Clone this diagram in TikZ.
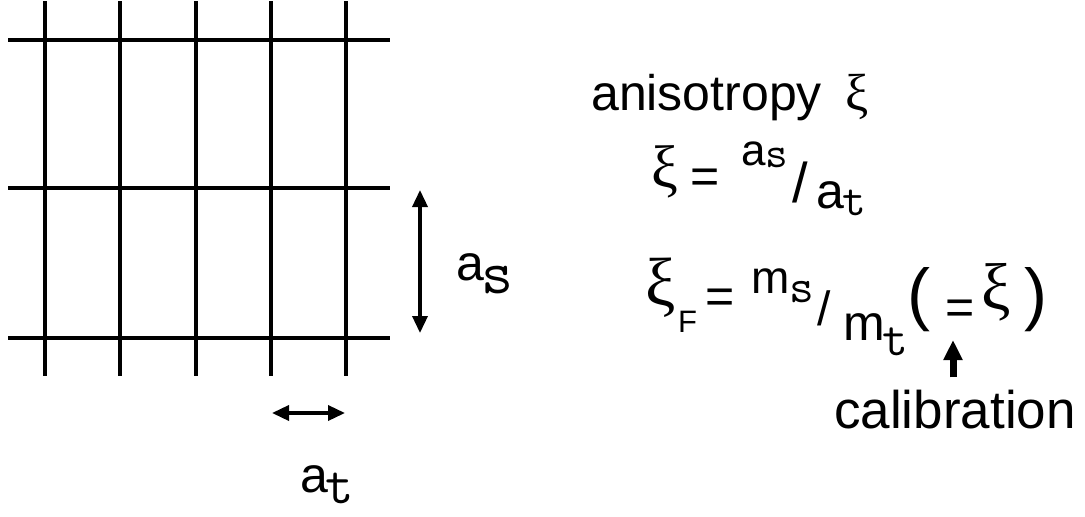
\documentclass[tikz,border=0pt]{standalone}
\usepackage{fontspec}
\setmainfont{Liberation Sans}
\newfontfamily\symfont{Liberation Serif}
\usetikzlibrary{arrows.meta}

\newcommand{\fs}[1]{\fontsize{#1}{#1}\selectfont}
\newcommand{\subs}[3]{\raisebox{-#3}{\fs{#1}\ttfamily #2}}

\begin{document}
\begin{tikzpicture}[
    x=1pt, y=-1pt,
    gridline/.style={line width=4pt},
    dimarrow/.style={{Triangle[length=17pt, width=15pt]}-{Triangle[length=17pt, width=15pt]}, line width=3.5pt},
    calarrow/.style={-{Triangle[length=20pt, width=18pt]}, line width=7pt},
    txt/.style={inner sep=0pt, anchor=base west, font=\fs{50}},
    sym/.style={txt, font=\fs{60}\symfont},
]
    \useasboundingbox (0,0) rectangle (1085,517);

    % Lattice
    \foreach \y in {40,188,338}
        \draw[gridline] (8,\y) -- (390,\y);
    \foreach \x in {45,120,196,271,346}
        \draw[gridline] (\x,1) -- (\x,376);

    % Spatial spacing
    \coordinate (astop) at (420,190);
    \coordinate (asbot) at (420,333);
    \draw[dimarrow] (astop) -- (asbot);
    \node[txt] (aslabel) at (456,280) {a\hspace{-3pt}\subs{62}{s}{13pt}};

    % Temporal spacing
    \coordinate (atleft) at (272,413);
    \coordinate (atright) at (345,413);
    \draw[dimarrow] (atleft) -- (atright);
    \node[txt] (atlabel) at (300,492) {a\hspace{-3pt}\subs{55}{t}{11pt}};

    % Anisotropy
    \node[txt] (aniso) at (591,110) {anisotropy\hspace{24pt}{\fs{52}\symfont ξ}};

    % Bare anisotropy
    \node[sym] (xibare) at (651,187) {ξ};
    \node[txt] (eqbare) at (690,193) {=};
    \node[txt, font=\fs{44}] (asnum) at (741,165) {a\subs{44}{s}{2pt}};
    \node[txt, font=\fs{56}] (slashbare) at (792,202) {/};
    \node[txt] (atden) at (816,208) {a\hspace{-2pt}\subs{46}{t}{7pt}};

    % Renormalized anisotropy
    \node[sym, font=\fs{68}\symfont] (xiren) at (645,305) {ξ};
    \node[txt, font=\fs{31}] (fsub) at (678,332) {F};
    \node[txt] (eqren) at (705,313) {=};
    \node[txt, font=\fs{46}] (msnum) at (751,293) {m\subs{48}{s}{9pt}};
    \node[txt, font=\fs{48}] (slashren) at (817,325) {/};
    \node[txt] (mtden) at (843,340) {m\hspace{-2pt}\subs{50}{t}{15pt}};
    \node[txt, font=\fs{69}] (lparen) at (907,317) {(};
    \node[txt] (eqcal) at (945,324) {=};
    \node[sym, font=\fs{66}\symfont] (xical) at (981,309) {ξ};
    \node[txt, font=\fs{69}] (rparen) at (1024,317) {)};

    % Calibration
    \node[txt, font=\fs{53}] (calib) at (834,428) {calibration};
    \coordinate (caltip) at (953,340);
    \draw[calarrow] ([yshift=12pt]calib.north -| caltip) -- (caltip);
\end{tikzpicture}
\end{document}
